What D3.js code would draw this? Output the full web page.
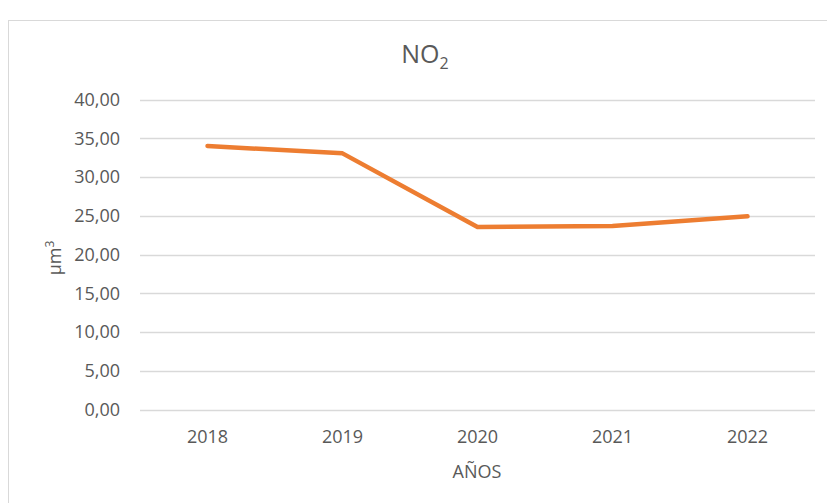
<!DOCTYPE html>
<html>
<head>
<meta charset="utf-8">
<script src="https://cdn.jsdelivr.net/npm/d3@7"></script>
<style>
  html, body { margin: 0; padding: 0; background: #fff; }
  svg { display: block; }
  text { font-family: "Open Sans", "Noto Sans", sans-serif; fill: #595959; }
</style>
</head>
<body>
<script>
const years = ["2018", "2019", "2020", "2021", "2022"];
const no2Values = [34.0, 33.05, 23.55, 23.68, 24.93];
const yTicks = [0, 5, 10, 15, 20, 25, 30, 35, 40];
const titleMain = "NO";
const titleSub = "2";
const xTitle = "AÑOS";
const yTitleMain = "µm";
const yTitleSup = "3";

const W = 827, H = 503;
const svg = d3.select("body").append("svg").attr("width", W).attr("height", H);

// chart border
svg.append("rect")
  .attr("x", 8.5).attr("y", 20.5)
  .attr("width", 840).attr("height", 520)
  .attr("fill", "none").attr("stroke", "#d9d9d9").attr("stroke-width", 1);

const plot = { left: 140, right: 815, top: 99.5, bottom: 409.5 };

const x = d3.scaleBand().domain(years).range([plot.left, plot.right]);
const y = d3.scaleLinear().domain([0, 40]).range([plot.bottom, plot.top]);
const fmt = v => d3.format(".2f")(v).replace(".", ",");

// gridlines
svg.append("g").selectAll("line").data(yTicks).join("line")
  .attr("x1", plot.left).attr("x2", plot.right)
  .attr("y1", d => Math.round(y(d)) + 0.5).attr("y2", d => Math.round(y(d)) + 0.5)
  .attr("stroke", "#d9d9d9").attr("stroke-width", 1.3);

// y tick labels
svg.append("g").selectAll("text").data(yTicks).join("text")
  .attr("x", 120).attr("y", d => y(d))
  .attr("dy", "0.36em")
  .attr("text-anchor", "end")
  .style("font-size", "18px")
  .text(d => fmt(d));

// x tick labels
svg.append("g").selectAll("text").data(years).join("text")
  .attr("x", d => x(d) + x.bandwidth() / 2).attr("y", 443)
  .attr("text-anchor", "middle")
  .style("font-size", "18px")
  .text(d => d);

// line
const line = d3.line()
  .x((d, i) => x(years[i]) + x.bandwidth() / 2)
  .y(d => y(d));
svg.append("path").datum(no2Values)
  .attr("d", line)
  .attr("fill", "none")
  .attr("stroke", "#ED7D31")
  .attr("stroke-width", 4.5)
  .attr("stroke-linejoin", "round")
  .attr("stroke-linecap", "round");

// title
const t = svg.append("text")
  .attr("x", 425).attr("y", 63)
  .attr("text-anchor", "middle")
  .style("font-size", "25px");
t.append("tspan").text(titleMain);
t.append("tspan").attr("dy", 6).style("font-size", "16px").text(titleSub);

// x axis title
svg.append("text")
  .attr("x", 477).attr("y", 478)
  .attr("text-anchor", "middle")
  .style("font-size", "18px")
  .text(xTitle);

// y axis title
const yt = svg.append("text")
  .attr("transform", "translate(61,258) rotate(-90)")
  .attr("text-anchor", "middle")
  .style("font-size", "18px");
yt.append("tspan").text(yTitleMain);
yt.append("tspan").attr("dy", -7).style("font-size", "12px").text(yTitleSup);
</script>
</body>
</html>
